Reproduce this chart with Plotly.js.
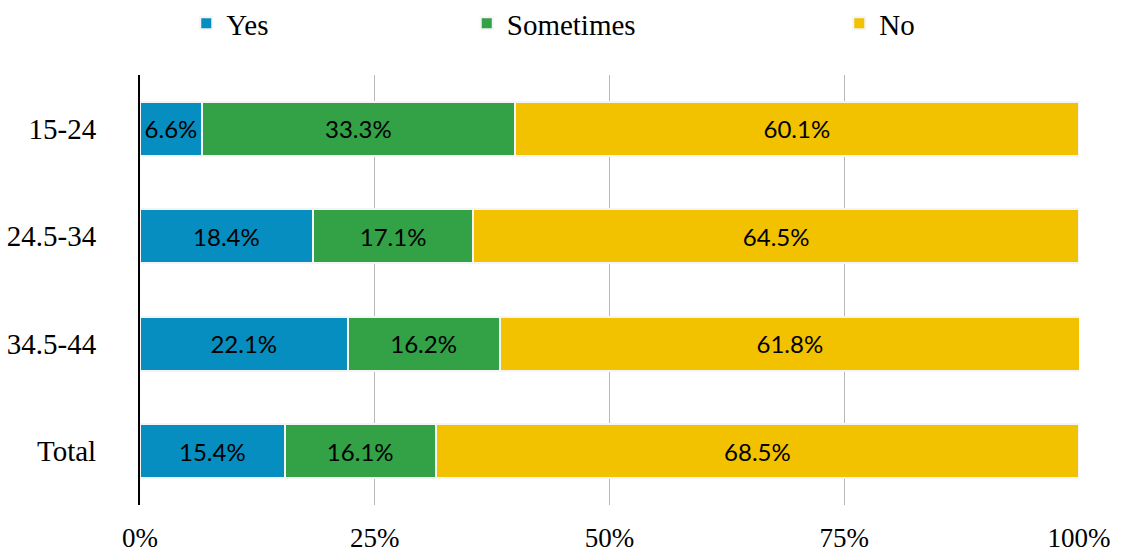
<!DOCTYPE html>
<html>
<head>
<meta charset="utf-8">
<script src="https://cdn.plot.ly/plotly-3.0.1.min.js"></script>
<style>html,body{margin:0;padding:0;background:#fff;}#chart{width:1122px;height:560px;}</style>
</head>
<body>
<div id="chart"></div>
<script>
const categories = ["15-24", "24.5-34", "34.5-44", "Total"];
const yesValues = [6.6, 18.4, 22.1, 15.4];
const sometimesValues = [33.3, 17.1, 16.2, 16.1];
const noValues = [60.1, 64.5, 61.8, 68.5];
const seriesNames = ["Yes", "Sometimes", "No"];
const seriesColors = ["#068EC0", "#33A146", "#F2C200"];
const xTickValues = [0, 25, 50, 75, 100];
const xTickLabels = ["0%", "25%", "50%", "75%", "100%"];

const serif = "Liberation Serif";
const legendIds = ["legend", "legend2", "legend3"];
const legendX = [0.166, 0.416, 0.748];

const seriesValues = [yesValues, sometimesValues, noValues];
const traces = seriesValues.map((vals, i) => ({
  type: "bar",
  orientation: "h",
  name: seriesNames[i],
  legend: legendIds[i],
  y: categories,
  x: vals,
  text: vals.map(v => '<span style="font-family:Lato">' + v.toFixed(1) + '%</span>'),
  textposition: "inside",
  insidetextanchor: "middle",
  textangle: 0,
  constraintext: "none",
  textfont: {family: serif, size: 24, color: "#000"},
  marker: {color: seriesColors[i], line: {color: "#f4f4f4", width: 2}},
  hoverinfo: "skip"
}));

function legendBox(x) {
  return {
    orientation: "h",
    xref: "container",
    yref: "container",
    x: x,
    xanchor: "left",
    y: 0.958,
    yanchor: "middle",
    bgcolor: "rgba(0,0,0,0)",
    font: {family: serif, size: 29, color: "#000"}
  };
}

const layout = {
  width: 1122,
  height: 560,
  barmode: "stack",
  bargap: 0.5,
  font: {family: serif, size: 28, color: "#000"},
  margin: {l: 140, r: 43, t: 75, b: 55, autoexpand: false},
  paper_bgcolor: "#fff",
  plot_bgcolor: "#fff",
  showlegend: true,
  legend: legendBox(legendX[0]),
  legend2: legendBox(legendX[1]),
  legend3: legendBox(legendX[2]),
  xaxis: {
    range: [0, 100],
    tickvals: xTickValues,
    ticktext: xTickLabels,
    showgrid: true,
    gridcolor: "#b8b8b8",
    gridwidth: 1,
    zeroline: false,
    showline: false,
    ticks: "",
    ticklabelstandoff: 14,
    tickfont: {family: serif, size: 27, color: "#000"},
    fixedrange: true
  },
  yaxis: {
    autorange: "reversed",
    showgrid: false,
    zeroline: false,
    showline: true,
    linecolor: "#000",
    linewidth: 2,
    ticks: "",
    ticklabelstandoff: 36,
    tickfont: {family: serif, size: 29, color: "#000"},
    fixedrange: true
  }
};

Plotly.newPlot("chart", traces, layout, {displayModeBar: false, staticPlot: true});
</script>
</body>
</html>
